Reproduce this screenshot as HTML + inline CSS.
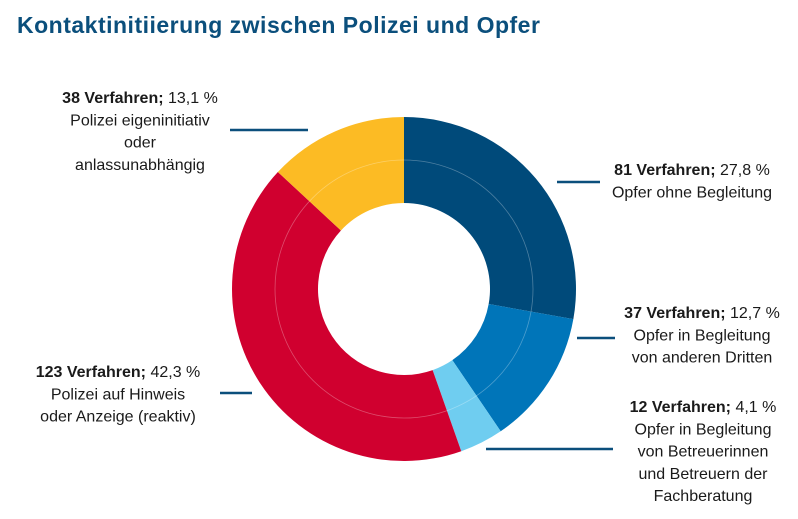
<!DOCTYPE html>
<html><head><meta charset="utf-8"><style>
body{margin:0;background:#fff;width:798px;height:519px;overflow:hidden;font-family:"Liberation Sans",sans-serif;}
svg{display:block}
</style></head><body>
<svg id="chart" width="798" height="519">
<text x="17" y="33" font-size="23" font-weight="bold" letter-spacing="0.5" fill="#0b4f7c">Kontaktinitiierung zwischen Polizei und Opfer</text>
<g id="slices"></g>
<circle cx="404" cy="289" r="129" fill="none" stroke="rgba(255,255,255,0.3)" stroke-width="0.8"/>
<g id="labels" font-size="16" fill="#1a1a1a" text-anchor="middle"></g>
</svg>
<script>
const categories=["Opfer ohne Begleitung","Opfer in Begleitung von anderen Dritten","Opfer in Begleitung von Betreuerinnen und Betreuern der Fachberatung","Polizei auf Hinweis oder Anzeige (reaktiv)","Polizei eigeninitiativ oder anlassunabhängig"];
const counts=[81,37,12,123,38];
const percents=[27.8,12.7,4.1,42.3,13.1];
const colors=["#004a7a","#0075b9","#6fcdf0","#d0002f","#fcbb24"];
const labelLines=[["Opfer ohne Begleitung"],["Opfer in Begleitung","von anderen Dritten"],["Opfer in Begleitung","von Betreuerinnen","und Betreuern  der","Fachberatung"],["Polizei auf Hinweis","oder Anzeige (reaktiv)"],["Polizei eigeninitiativ","oder","anlassunabhängig"]];
const labelPos=[[692,175],[702,318],[703,412],[118,377],[140,103]];
const leaders=[[557,600,182],[577,615,338],[486,613,449],[220,252,393],[230,308,130]];
const NS="http://www.w3.org/2000/svg";
const cx=404,cy=289,R=172,r=86;
const total=percents.reduce((a,b)=>a+b,0);
function pt(a,rad){return [cx+rad*Math.sin(a),cy-rad*Math.cos(a)];}
let acc=0;
const gs=document.getElementById('slices');
percents.forEach((p,i)=>{
 const a0=acc/total*2*Math.PI;acc+=p;const a1=acc/total*2*Math.PI;
 const large=(a1-a0)>Math.PI?1:0;
 const [x0,y0]=pt(a0,R),[x1,y1]=pt(a1,R),[x2,y2]=pt(a1,r),[x3,y3]=pt(a0,r);
 const path=document.createElementNS(NS,'path');
 path.setAttribute('d',`M${x0},${y0}A${R},${R} 0 ${large} 1 ${x1},${y1}L${x2},${y2}A${r},${r} 0 ${large} 0 ${x3},${y3}Z`);
 path.setAttribute('fill',colors[i]);
 
 
 gs.appendChild(path);
});
const gl=document.getElementById('labels');
categories.forEach((c,i)=>{
 const l=leaders[i];
 const ln=document.createElementNS(NS,'line');
 ln.setAttribute('x1',l[0]);ln.setAttribute('x2',l[1]);ln.setAttribute('y1',l[2]);ln.setAttribute('y2',l[2]);
 ln.setAttribute('stroke','#0b4f7c');ln.setAttribute('stroke-width','2.5');
 
 
 gl.appendChild(ln);
 const t=document.createElementNS(NS,'text');
 
 
 const [x,y]=labelPos[i];
 const s1=document.createElementNS(NS,'tspan');
 s1.setAttribute('x',x);s1.setAttribute('y',y);
 const b=document.createElementNS(NS,'tspan');b.setAttribute('font-weight','bold');b.textContent=counts[i]+' Verfahren;';
 s1.appendChild(b);
 s1.appendChild(document.createTextNode(' '+percents[i].toString().replace('.',',')+' %'));
 t.appendChild(s1);
 labelLines[i].forEach((line,k)=>{
  const s=document.createElementNS(NS,'tspan');
  s.setAttribute('x',x);s.setAttribute('y',y+22.3*(k+1));
  s.textContent=line;t.appendChild(s);
 });
 gl.appendChild(t);
});
</script>
</body></html>
